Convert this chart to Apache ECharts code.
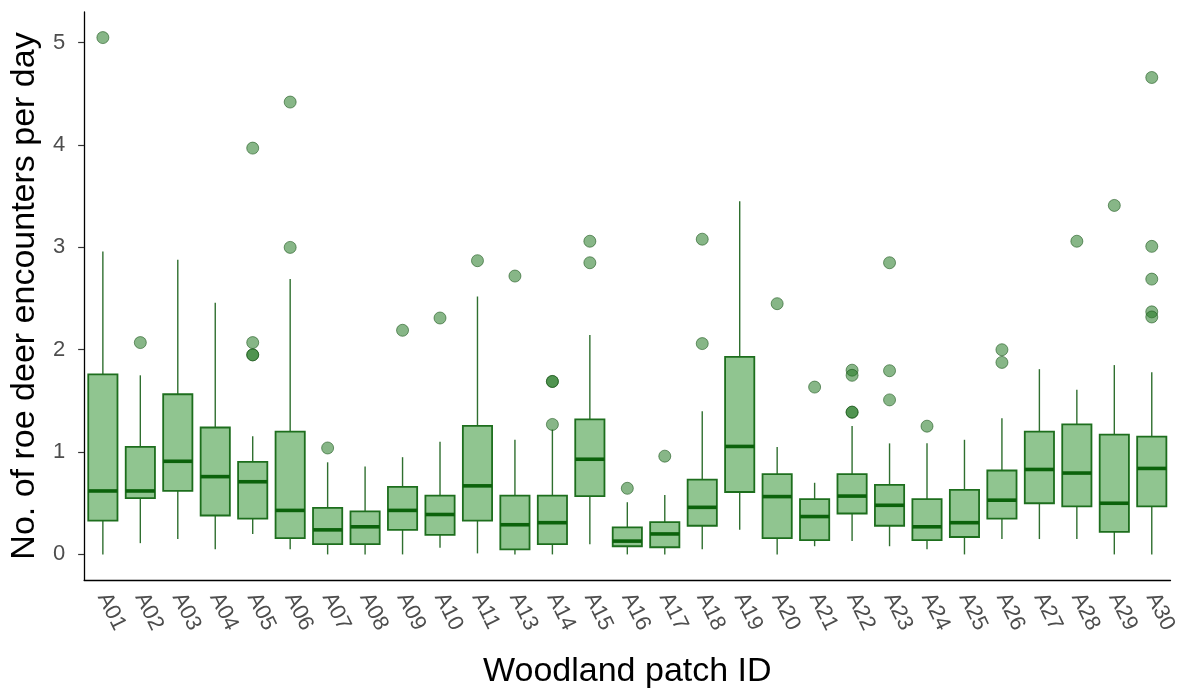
<!DOCTYPE html>
<html>
<head>
<meta charset="utf-8">
<script src="https://cdn.jsdelivr.net/npm/echarts@6/dist/echarts.min.js"></script>
<style>
  html, body { margin: 0; padding: 0; background: #ffffff; }
  #chart { width: 1180px; height: 694px; }
</style>
</head>
<body>
<div id="chart"></div>
<script>
// Woodland patches (A12 absent)
const patches = ['A01','A02','A03','A04','A05','A06','A07','A08','A09','A10','A11','A13','A14','A15','A16',
                 'A17','A18','A19','A20','A21','A22','A23','A24','A25','A26','A27','A28','A29','A30'];

// Box-plot statistics per patch
const whiskerLow = [0.00,0.11,0.15,0.05,0.20,0.05,0.00,0.00,0.00,0.065,0.01,0.00,0.00,0.10,0.00,
                    0.00,0.05,0.24,0.00,0.08,0.13,0.08,0.05,0.00,0.15,0.15,0.15,0.00,0.00];
const q1         = [0.33,0.55,0.62,0.38,0.35,0.16,0.10,0.10,0.24,0.19,0.33,0.05,0.10,0.57,0.08,
                    0.07,0.28,0.61,0.16,0.14,0.40,0.28,0.14,0.17,0.35,0.50,0.47,0.22,0.47];
const median     = [0.62,0.62,0.91,0.76,0.71,0.43,0.24,0.27,0.43,0.39,0.67,0.29,0.31,0.93,0.13,
                    0.20,0.46,1.055,0.565,0.37,0.57,0.48,0.27,0.31,0.53,0.83,0.795,0.50,0.84];
const q3         = [1.76,1.05,1.565,1.24,0.905,1.20,0.455,0.42,0.66,0.575,1.255,0.575,0.575,1.32,0.265,
                    0.315,0.73,1.93,0.785,0.54,0.785,0.68,0.54,0.63,0.82,1.20,1.27,1.17,1.15];
const whiskerHigh= [2.96,1.75,2.88,2.46,1.155,2.69,0.90,0.86,0.95,1.10,2.52,1.12,1.22,2.145,0.51,
                    0.58,1.40,3.45,1.05,0.70,1.255,1.085,1.085,1.12,1.33,1.81,1.61,1.85,1.78];

// Outlying observations: [patch, encounters per day]
const outliers = [
  ['A01',5.05],['A02',2.07],
  ['A05',3.97],['A05',2.07],['A05',1.95],['A05',1.95],
  ['A06',4.42],['A06',3.00],
  ['A07',1.04],['A09',2.19],['A10',2.31],['A11',2.87],['A13',2.72],
  ['A14',1.69],['A14',1.69],['A14',1.27],
  ['A15',3.06],['A15',2.85],
  ['A16',0.646],['A17',0.96],
  ['A18',3.08],['A18',2.06],
  ['A20',2.45],['A21',1.635],
  ['A22',1.80],['A22',1.75],['A22',1.39],['A22',1.39],
  ['A23',2.85],['A23',1.795],['A23',1.51],
  ['A24',1.253],
  ['A26',2.00],['A26',1.876],
  ['A28',3.06],['A29',3.41],
  ['A30',4.66],['A30',3.01],['A30',2.69],['A30',2.37],['A30',2.32]
];

const yTicks = [0, 1, 2, 3, 4, 5];

const boxData = patches.map((p, i) => [i, whiskerLow[i], q1[i], median[i], q3[i], whiskerHigh[i]]);

const FONT = '"Liberation Sans", Arial, sans-serif';
const GREEN_DARK = '#1d6e1d';

function renderBox(params, api) {
  const i = api.value(0);
  const lo = api.coord([i, api.value(1)]);
  const b1 = api.coord([i, api.value(2)]);
  const md = api.coord([i, api.value(3)]);
  const b3 = api.coord([i, api.value(4)]);
  const hi = api.coord([i, api.value(5)]);
  const w = api.size([1, 0])[0] * 0.78;
  const x = lo[0];
  return {
    type: 'group',
    children: [
      { type: 'line', shape: { x1: x, y1: lo[1], x2: x, y2: b1[1] },
        style: { stroke: '#2f6f2f', lineWidth: 1.4 } },
      { type: 'line', shape: { x1: x, y1: b3[1], x2: x, y2: hi[1] },
        style: { stroke: '#2f6f2f', lineWidth: 1.4 } },
      { type: 'rect', shape: { x: x - w / 2, y: b3[1], width: w, height: b1[1] - b3[1] },
        style: { fill: 'rgba(34,139,34,0.5)', stroke: GREEN_DARK, lineWidth: 1.8 } },
      { type: 'line', shape: { x1: x - w / 2, y1: md[1], x2: x + w / 2, y2: md[1] },
        style: { stroke: '#0b620b', lineWidth: 3.6 } }
    ]
  };
}

const chart = echarts.init(document.getElementById('chart'), null, { renderer: 'canvas' });
chart.setOption({
  backgroundColor: '#ffffff',
  animation: false,
  grid: { left: 83, right: 3, top: 12, bottom: 112, containLabel: false },
  xAxis: {
    type: 'category',
    data: patches,
    boundaryGap: true,
    name: 'Woodland patch ID',
    nameLocation: 'middle',
    nameGap: 75,
    nameTextStyle: { fontFamily: FONT, fontSize: 34, color: '#000000' },
    axisLine: { onZero: false, lineStyle: { color: '#000000', width: 1.3 } },
    axisTick: { alignWithLabel: true, length: 6, lineStyle: { color: '#333333', width: 1.2 } },
    axisLabel: { rotate: -64, margin: 14, fontFamily: FONT, fontSize: 22, color: '#4d4d4d', interval: 0 },
    splitLine: { show: false }
  },
  yAxis: {
    type: 'value',
    min: -0.25,
    max: 5.3,
    name: 'No. of roe deer encounters per day',
    nameLocation: 'middle',
    nameGap: 38,
    nameTextStyle: { fontFamily: FONT, fontSize: 34, color: '#000000' },
    axisLine: { show: true, lineStyle: { color: '#000000', width: 1.3 } },
    axisTick: { show: true, length: 6, customValues: yTicks, lineStyle: { color: '#333333', width: 1.2 } },
    axisLabel: { customValues: yTicks, margin: 19, fontFamily: FONT, fontSize: 22, color: '#4d4d4d' },
    splitLine: { show: false }
  },
  series: [
    {
      type: 'custom',
      renderItem: renderBox,
      encode: { x: 0, y: [1, 2, 3, 4, 5] },
      data: boxData,
      z: 2
    },
    {
      type: 'scatter',
      data: outliers,
      symbol: 'circle',
      symbolSize: 12,
      itemStyle: { color: 'rgba(34,120,34,0.68)', borderColor: 'rgba(20,80,20,0.7)', borderWidth: 1 },
      z: 3
    }
  ]
});
</script>
</body>
</html>
